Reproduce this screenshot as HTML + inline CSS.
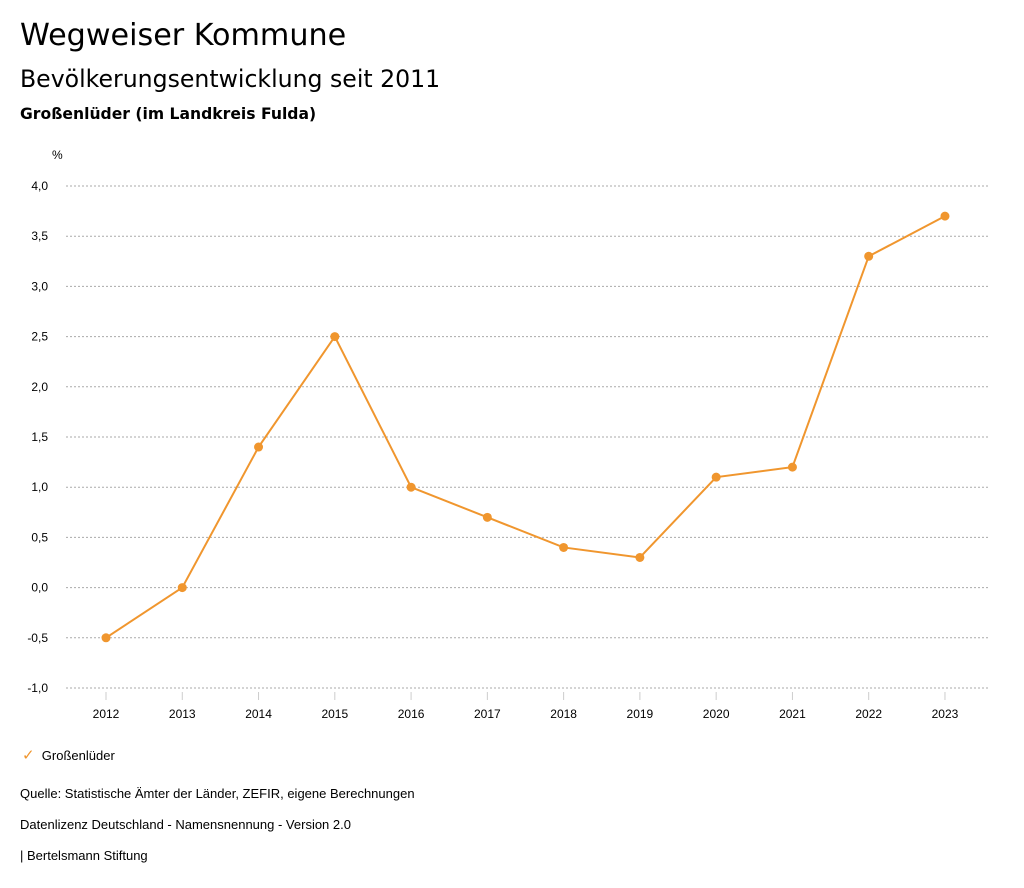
<!DOCTYPE html>
<html><head><meta charset="utf-8"><style>
body{margin:0;background:#fff;font-family:"Liberation Sans",sans-serif;color:#000;width:1024px;height:888px;overflow:hidden;position:relative}
.t{position:absolute;left:20px;white-space:nowrap}
.d{font-family:"DejaVu Sans",sans-serif}
</style></head><body>
<div class="t d" style="top:18px;font-size:30.2px">Wegweiser Kommune</div>
<div class="t d" style="top:65px;font-size:23.6px">Bevölkerungsentwicklung seit 2011</div>
<div class="t d" style="top:105px;font-size:15.6px;font-weight:bold">Großenlüder (im Landkreis Fulda)</div>
<svg id="chart" width="1024" height="888" style="position:absolute;left:0;top:0"></svg>
<div class="t" style="top:746px;left:22px;font-size:13px"><span style="color:#f0962e;font-size:15px">✓</span>&nbsp;&nbsp;Großenlüder</div>
<div class="t" style="top:786px;font-size:13px">Quelle: Statistische Ämter der Länder, ZEFIR, eigene Berechnungen</div>
<div class="t" style="top:817px;font-size:13px">Datenlizenz Deutschland - Namensnennung - Version 2.0</div>
<div class="t" style="top:848px;font-size:13px">| Bertelsmann Stiftung</div>
<script>
const years=["2012","2013","2014","2015","2016","2017","2018","2019","2020","2021","2022","2023"];
const values=[-0.5,0.0,1.4,2.5,1.0,0.7,0.4,0.3,1.1,1.2,3.3,3.7];
const yTicks=[-1,-0.5,0,0.5,1,1.5,2,2.5,3,3.5,4];
const NS="http://www.w3.org/2000/svg";
const svg=document.getElementById('chart');
const y=v=>688-(v+1)*100.4;
const x=i=>106+i*76.27;
function mk(t,a){const e=document.createElementNS(NS,t);for(const k in a)e.setAttribute(k,a[k]);svg.appendChild(e);return e;}
const u=mk('text',{x:52,y:159,'font-size':12,'font-family':'Liberation Sans'});u.textContent='%';


yTicks.forEach(v=>{
 const g=mk('line',{x1:66,x2:990,y1:y(v),y2:y(v),stroke:'#aaa','stroke-dasharray':'2,2','stroke-width':1});
 
 
 const t=mk('text',{x:48,y:y(v)+4,'text-anchor':'end','font-size':12,'font-family':'Liberation Sans'});
 t.textContent=v.toFixed(1).replace('.',',');
 
 
});
years.forEach((yr,i)=>{
 const l=mk('line',{x1:x(i),x2:x(i),y1:692,y2:700,stroke:'#ccc'});
 
 
 const t=mk('text',{x:x(i),y:718,'text-anchor':'middle','font-size':12,'font-family':'Liberation Sans'});
 t.textContent=yr;
 
 
});
const p=mk('polyline',{points:values.map((v,i)=>x(i)+','+y(v)).join(' '),fill:'none',stroke:'#f0962e','stroke-width':2});


values.forEach((v,i)=>{
 const c=mk('circle',{cx:x(i),cy:y(v),r:4.5,fill:'#f0962e'});
 
 
});
</script>
</body></html>
